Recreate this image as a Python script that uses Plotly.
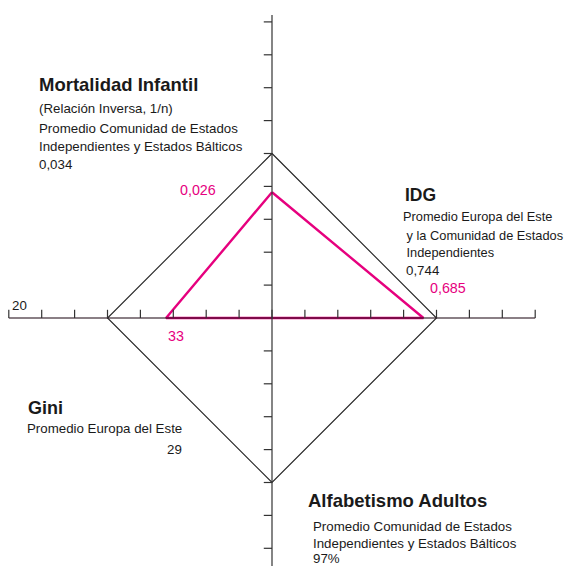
import plotly.graph_objects as go

# ---------------- data ----------------
axes_names = ["Mortalidad Infantil", "IDG", "Alfabetismo Adultos", "Gini"]
reference_values = [0.034, 0.744, 97, 29]        # regional averages (outer diamond)
country_values = [0.026, 0.685, None, 33]         # country (pink); literacy not shown
reference_labels = ["0,034", "0,744", "97%", "29"]
country_labels = ["0,026", "0,685", None, "33"]
gini_axis_end_label = "20"

# ---------------- geometry helpers ----------------
W, H = 565, 567
CX, CY = 272, 318          # pixel centre of the cross
UNIT = 32.9                # pixels per tick
REF_POS = 5                # reference values sit on 5th tick
GINI_STEP = 0.445          # ticks per Gini point (inverse scale)

def px(x):
    return x / W

def py(y):
    return 1 - y / H

def radial(i, v):
    if v is None:
        return 0.0
    if i == 3:  # Gini: inverse relation
        return REF_POS - (v - reference_values[3]) * GINI_STEP
    return REF_POS * v / reference_values[i]

def to_xy(i, r):
    # 0: up, 1: right, 2: down, 3: left
    return [(0, r), (r, 0), (0, -r), (-r, 0)][i]

xr = [-CX / UNIT, (W - CX) / UNIT]
yr = [-(H - CY) / UNIT, CY / UNIT]

fig = go.Figure()

AX = "#333333"
PINK = "#E6007E"

# reference diamond
ref_pts = [to_xy(i, radial(i, v)) for i, v in enumerate(reference_values)]
ref_pts.append(ref_pts[0])
fig.add_trace(go.Scatter(x=[p[0] for p in ref_pts], y=[p[1] for p in ref_pts],
                         mode="lines", line=dict(color="#222222", width=1.1),
                         hoverinfo="skip"))

# country polygon
c_pts = [to_xy(i, radial(i, v)) for i, v in enumerate(country_values)]
c_pts.append(c_pts[0])
fig.add_trace(go.Scatter(x=[p[0] for p in c_pts], y=[p[1] for p in c_pts],
                         mode="lines", line=dict(color=PINK, width=2.4),
                         hoverinfo="skip"))

# main cross axes
fig.add_trace(go.Scatter(x=[-8, 8], y=[0, 0], mode="lines",
                         line=dict(color="rgba(40,20,30,0.72)", width=1.4), hoverinfo="skip"))
fig.add_trace(go.Scatter(x=[0, 0], y=[-(566 - CY) / UNIT, (CY - 15) / UNIT], mode="lines",
                         line=dict(color=AX, width=1.2), hoverinfo="skip"))

# ticks
tx, ty = [], []
TL = 0.25
for k in range(-8, 9):
    tx += [k, k, None]
    ty += [0, TL, None]
for k in range(-7, 10):
    if k == 0:
        continue
    tx += [-TL, 0, None]
    ty += [k, k, None]
fig.add_trace(go.Scatter(x=tx, y=ty, mode="lines", line=dict(color=AX, width=1.2),
                         hoverinfo="skip"))

FONT = "Liberation Sans, Arial, Helvetica, sans-serif"

def text(x, y, s, size=13.3, color="#1a1a1a", bold=False, xanchor="left"):
    fig.add_annotation(x=px(x), y=py(y), xref="paper", yref="paper", text=s,
                       showarrow=False, xanchor=xanchor, yanchor="middle",
                       xshift=-1,
                       font=dict(family=FONT, size=size, color=color,
                                 weight="bold" if bold else "normal"))

TS = 18.5
SS = 13.3
PS = 14.3

# Mortalidad infantil
text(38, 84.5, axes_names[0], TS, "#1a1a1a", True)
text(38, 109, "(Relación Inversa, 1/n)", SS)
text(38, 128, "Promedio Comunidad de Estados", SS)
text(38, 146, "Independientes y Estados Bálticos", SS)
text(38, 164.5, reference_labels[0], SS)
text(179, 189.5, country_labels[0], PS, PINK)

# IDG
text(404, 195, axes_names[1], TS - 1, "#1a1a1a", True)
text(402, 216.3, "Promedio Europa del Este", 12.8)
text(402, 235, " y la Comunidad de Estados", 12.8)
text(402, 252, " Independientes", 12.8)
text(405, 270.5, reference_labels[1], SS)
text(429, 288, country_labels[1], PS, PINK)

# Gini
text(11, 305, gini_axis_end_label, SS)
text(167, 336, country_labels[3], PS, PINK)
text(27, 408, axes_names[3], TS - 0.5, "#1a1a1a", True)
text(26, 428.5, "Promedio Europa del Este", SS)
text(185, 449, reference_labels[3], SS, xanchor="right")

# Alfabetismo
text(307, 500.5, axes_names[2], TS, "#1a1a1a", True)
text(312, 526, "Promedio Comunidad de Estados", SS)
text(312, 543.5, "Independientes y Estados Bálticos", SS)
text(312, 558.5, reference_labels[2], SS)

fig.update_layout(width=W, height=H, margin=dict(l=0, r=0, t=0, b=0),
                  paper_bgcolor="white", plot_bgcolor="white", showlegend=False,
                  xaxis=dict(range=xr, visible=False, fixedrange=True),
                  yaxis=dict(range=yr, visible=False, fixedrange=True))

fig.write_html("out.html", config={"displayModeBar": False},
               post_script="document.body.style.margin='0';")
